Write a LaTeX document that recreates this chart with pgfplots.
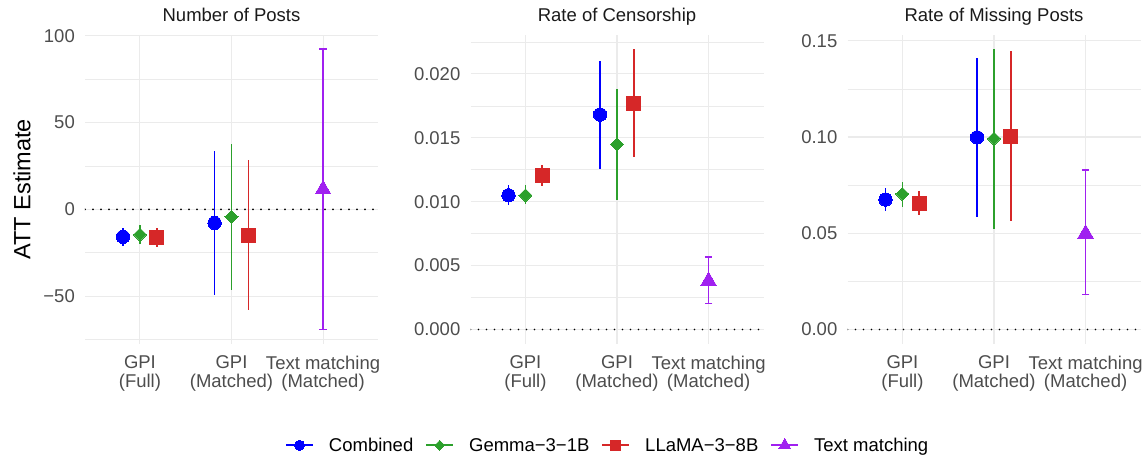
\documentclass[border=0pt]{standalone}
\usepackage{fontspec}
\setmainfont{Liberation Sans}
\usepackage{pgfplots}
\pgfplotsset{compat=1.18}
\definecolor{cblue}{RGB}{0,0,255}
\definecolor{cgreen}{RGB}{44,160,44}
\definecolor{cred}{RGB}{214,39,40}
\definecolor{cpurple}{RGB}{160,32,240}
\definecolor{gridc}{RGB}{235,235,235}
\definecolor{tickc}{RGB}{77,77,77}
\definecolor{titlec}{RGB}{26,26,26}
\newcommand{\smallf}{\fontsize{18.5}{20.5}\selectfont}
\pgfplotsset{
  panel/.style={
    width=293pt, height=308.5pt, scale only axis,
    xmin=0.4, xmax=3.6, xtick={1,2,3},
    xticklabels={GPI\\(Full), GPI\\(Matched), Text matching\\(Matched)},
    scaled ticks=false,
    axis line style={draw=none}, tick style={draw=none},
    major tick length=0pt, minor tick length=0pt,
    grid=both,
    major grid style={gridc, line width=1.1pt},
    minor grid style={gridc, line width=0.6pt},
    xticklabel style={align=center, font=\fontsize{18.5}{18.5}\selectfont, text=tickc, inner sep=0pt, anchor=north, yshift=-12pt},
    yticklabel style={font=\smallf, text=tickc, inner sep=0pt, anchor=east, xshift=-10pt},
    title style={font=\smallf, text=titlec, at={(0.5,1)}, anchor=base, yshift=7pt, inner sep=0pt},
  },
  ser/.style={only marks, mark options={draw=#1, fill=#1, line width=0pt},
    error bars/y dir=both, error bars/y explicit,
    error bars/error bar style={#1, line width=1.8pt},
    error bars/error mark=none},
  serg/.style={only marks, mark=square*, mark size=4.6pt, mark options={rotate=45, draw=cgreen, fill=cgreen, line width=0pt},
    error bars/y dir=both, error bars/y explicit,
    error bars/error bar style={cgreen, line width=1.8pt},
    error bars/error mark=none},
  serp/.style={only marks, mark=triangle*, mark size=9pt, mark options={draw=cpurple, fill=cpurple, line width=0pt},
    error bars/y dir=both, error bars/y explicit,
    error bars/error bar style={cpurple, line width=1.3pt},
    error bars/error mark options={rotate=90, cpurple, mark size=3.7pt, line width=1.3pt}},
  hl/.style={black, line width=1.9pt, dash pattern=on 0pt off 8pt, line cap=round, forget plot},
}
\begin{document}
\begin{tikzpicture}
\useasboundingbox (0,0) rectangle (1145pt,455pt);
% ---------------- Panel 1
\begin{axis}[panel, at={(85pt,111.5pt)}, anchor=south west,
  title={Number of Posts},
  ymin=-77.275, ymax=100.375,
  ytick={-50,0,50,100}, yticklabels={−50,0,50,100},
  minor ytick={-75,-25,25,75},
  ylabel={ATT Estimate},
  ylabel style={font=\fontsize{23.5}{26}\selectfont, text=black, at={(axis description cs:-0.215,0.5)}, anchor=center},
]
\addplot[hl] coordinates {(0.4,0) (3.6,0)};
\addplot[ser=cblue, mark=*, mark size=6.7pt] table[x=x,y=y,y error plus=ep,y error minus=em] {
x y ep em
0.815 -15.8 5.2 5.4
1.815 -7.9 41.7 41.7
};
\addplot[serg] table[x=x,y=y,y error plus=ep,y error minus=em] {
x y ep em
1 -14.6 5.8 5.4
2 -4.4 41.9 42.1
};
\addplot[ser=cred, mark=square*, mark size=7pt] table[x=x,y=y,y error plus=ep,y error minus=em] {
x y ep em
1.185 -16.5 5.5 5.4
2.185 -15.0 43.3 43.0
};
\addplot[serp] table[x=x,y=y,y error plus=ep,y error minus=em] {
x y ep em
3 11.5 80.8 80.7
};
\end{axis}
% ---------------- Panel 2
\begin{axis}[panel, at={(470.5pt,111.5pt)}, anchor=south west,
  title={Rate of Censorship},
  ymin=-0.0010975, ymax=0.0230475,
  ytick={0,0.005,0.01,0.015,0.02}, yticklabels={0.000,0.005,0.010,0.015,0.020},
  minor ytick={0.0025,0.0075,0.0125,0.0175,0.0225},
  legend columns=4,
  legend style={at={(axis description cs:0.465,-0.33)}, anchor=center, draw=none, fill=none,
    font=\smallf, nodes={inner sep=0pt},
    /tikz/every even column/.append style={column sep=12pt},
    /tikz/every odd column/.append style={column sep=15pt}},
  legend cell align=left,
  legend image code/.code={\draw[mark repeat=2,mark phase=2,#1] plot coordinates {(0pt,0pt) (13.5pt,0pt) (27pt,0pt)};},
]
\addlegendimage{cblue, line width=1.8pt, mark=*, mark size=5pt, mark options={fill=cblue, draw=cblue, line width=0pt}}
\addlegendentry{Combined}
\addlegendimage{cgreen, line width=1.8pt, mark=square*, mark size=3.5pt, mark options={rotate=45, fill=cgreen, draw=cgreen, line width=0pt}}
\addlegendentry{Gemma−3−1B}
\addlegendimage{cred, line width=1.8pt, mark=square*, mark size=5pt, mark options={fill=cred, draw=cred, line width=0pt}}
\addlegendentry{LLaMA−3−8B}
\addlegendimage{cpurple, line width=1.8pt, mark=triangle*, mark size=7pt, mark options={fill=cpurple, draw=cpurple, line width=0pt}}
\addlegendentry{Text matching}
\addplot[hl] coordinates {(0.4,0) (3.6,0)};
\addplot[ser=cblue, mark=*, mark size=6.7pt, forget plot] table[x=x,y=y,y error plus=ep,y error minus=em] {
x y ep em
0.815 0.0105 0.0008 0.00075
1.815 0.01682 0.00418 0.00424
};
\addplot[serg, forget plot] table[x=x,y=y,y error plus=ep,y error minus=em] {
x y ep em
1 0.0105 0.0008 0.0007
2 0.01448 0.00435 0.00438
};
\addplot[ser=cred, mark=square*, mark size=7pt, forget plot] table[x=x,y=y,y error plus=ep,y error minus=em] {
x y ep em
1.185 0.01208 0.0008 0.00083
2.185 0.01771 0.00424 0.00419
};
\addplot[serp, forget plot] table[x=x,y=y,y error plus=ep,y error minus=em] {
x y ep em
3 0.0038 0.00188 0.00177
};
\end{axis}
% ---------------- Panel 3
\begin{axis}[panel, at={(847.5pt,111.5pt)}, anchor=south west,
  title={Rate of Missing Posts},
  ymin=-0.007285, ymax=0.152985,
  ytick={0,0.05,0.1,0.15}, yticklabels={0.00,0.05,0.10,0.15},
  minor ytick={0.025,0.075,0.125},
]
\addplot[hl] coordinates {(0.4,0) (3.6,0)};
\addplot[ser=cblue, mark=*, mark size=6.7pt] table[x=x,y=y,y error plus=ep,y error minus=em] {
x y ep em
0.815 0.0675 0.0059 0.0057
1.815 0.0998 0.0412 0.0415
};
\addplot[serg] table[x=x,y=y,y error plus=ep,y error minus=em] {
x y ep em
1 0.0704 0.0061 0.0066
2 0.0991 0.0466 0.0469
};
\addplot[ser=cred, mark=square*, mark size=7pt] table[x=x,y=y,y error plus=ep,y error minus=em] {
x y ep em
1.185 0.0657 0.0061 0.0062
2.185 0.1002 0.0443 0.0441
};
\addplot[serp] table[x=x,y=y,y error plus=ep,y error minus=em] {
x y ep em
3 0.0498 0.0331 0.0316
};
\end{axis}
\end{tikzpicture}
\end{document}
